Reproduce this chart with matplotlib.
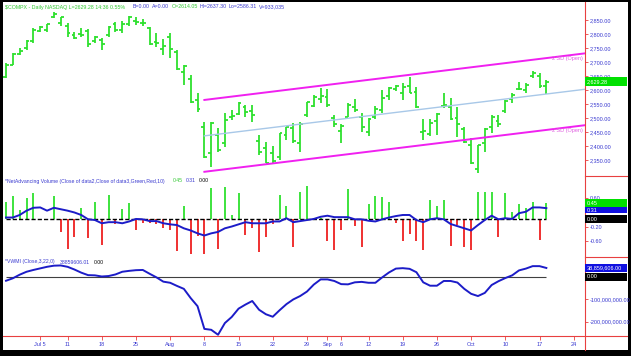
import numpy as np
import matplotlib.pyplot as plt
from matplotlib.patches import Rectangle
from matplotlib.lines import Line2D
from matplotlib.ticker import FuncFormatter

plt.rcParams['font.family'] = ['Liberation Sans', 'DejaVu Sans']

W, H = 631, 356

# daily bars for $COMPX, one entry per trading day (27 Jun .. 18 Oct 2011)
price_open = [2647, 2690, 2730, 2750, 2775, 2810, 2815, 2860, 2840, 2830,
              2795, 2800, 2810, 2775, 2780, 2795, 2835, 2815, 2835, 2845,
              2840, 2820, 2770, 2745, 2790, 2735, 2665, 2640, 2565, 2470,
              2375, 2440, 2410, 2505, 2515, 2540, 2525, 2420, 2395, 2375,
              2360, 2440, 2465, 2410, 2510, 2545, 2570, 2575, 2500, 2455,
              2505, 2540, 2505, 2450, 2505, 2530, 2580, 2605, 2590, 2615,
              2595, 2450, 2445, 2490, 2545, 2540, 2500, 2460, 2405, 2320,
              2410, 2470, 2490, 2525, 2570, 2605, 2600, 2650, 2650, 2614]
price_high = [2697, 2732, 2750, 2779, 2821, 2829, 2836, 2879, 2861, 2839,
              2807, 2821, 2818, 2793, 2786, 2829, 2843, 2846, 2864, 2861,
              2854, 2825, 2804, 2782, 2804, 2743, 2690, 2654, 2590, 2486,
              2486, 2465, 2519, 2529, 2558, 2547, 2547, 2440, 2415, 2401,
              2447, 2469, 2483, 2486, 2558, 2583, 2608, 2604, 2511, 2479,
              2554, 2568, 2519, 2501, 2543, 2601, 2611, 2618, 2625, 2647,
              2611, 2497, 2497, 2519, 2590, 2572, 2540, 2469, 2429, 2404,
              2465, 2511, 2511, 2565, 2590, 2629, 2625, 2668, 2661, 2637]
price_low = [2643, 2690, 2725, 2743, 2768, 2807, 2807, 2857, 2829, 2789,
             2782, 2789, 2754, 2768, 2743, 2789, 2807, 2804, 2829, 2832,
             2829, 2761, 2754, 2725, 2715, 2672, 2618, 2554, 2522, 2358,
             2326, 2380, 2397, 2494, 2511, 2504, 2486, 2369, 2340, 2340,
             2351, 2422, 2412, 2380, 2504, 2540, 2554, 2540, 2469, 2412,
             2504, 2522, 2451, 2437, 2497, 2519, 2565, 2597, 2565, 2590,
             2536, 2422, 2437, 2440, 2536, 2494, 2433, 2412, 2337, 2305,
             2380, 2447, 2469, 2519, 2554, 2601, 2590, 2643, 2608, 2586]
price_close = [2688, 2729, 2740, 2774, 2816, 2825, 2834, 2873, 2860, 2802,
               2784, 2797, 2763, 2789, 2765, 2826, 2815, 2834, 2859, 2842,
               2840, 2765, 2767, 2756, 2745, 2675, 2685, 2556, 2532, 2360,
               2482, 2385, 2492, 2507, 2555, 2523, 2511, 2380, 2342, 2346,
               2446, 2467, 2419, 2480, 2556, 2576, 2579, 2546, 2480, 2473,
               2548, 2529, 2467, 2496, 2532, 2572, 2607, 2615, 2612, 2590,
               2540, 2455, 2483, 2516, 2546, 2496, 2481, 2415, 2340, 2404,
               2460, 2506, 2479, 2560, 2583, 2604, 2620, 2660, 2615, 2629.28]

# regression channel (Open), from 8 Aug to the right edge
chan_x = [29, 84.65]
chan_mid = [2437, 2603]
chan_2sd = 128

net_adv = [0.47, 0.65, 0.26, 0.58, 0.74, 0.02, -0.02, 0.65, -0.34, -0.83,
           -0.48, 0.31, -0.53, 0.47, -0.71, 0.68, -0.13, 0.28, 0.44, -0.30,
           -0.09, -0.11, -0.13, -0.25, -0.31, -0.87, 0.38, -0.96, -0.46, -0.96,
           0.86, -0.83, 0.91, 0.12, 0.74, -0.44, -0.25, -0.92, -0.48, -0.14,
           0.68, 0.38, -0.76, 0.77, 0.93, 0.05, 0.03, -0.59, -0.85, -0.31,
           0.84, -0.19, -0.78, 0.43, 0.65, 0.61, 0.49, -0.09, -0.60, -0.42,
           -0.59, -0.85, 0.54, 0.37, 0.54, -0.74, -0.16, -0.78, -0.85, 0.75,
           0.75, 0.75, -0.48, 0.72, 0.21, 0.43, 0.31, 0.47, -0.57, 0.45]
net_adv_avg = [0.05, 0.05, 0.12, 0.24, 0.32, 0.33, 0.24, 0.32, 0.28, 0.24,
               0.19, 0.12, 0.00, -0.02, -0.11, -0.08, -0.08, -0.11, -0.06, 0.01,
               0.00, -0.05, -0.05, -0.11, -0.14, -0.16, -0.25, -0.31, -0.39, -0.45,
               -0.39, -0.35, -0.25, -0.20, -0.14, -0.08, -0.11, -0.11, -0.11, -0.06,
               -0.06, 0.03, -0.08, -0.05, -0.02, 0.01, 0.07, 0.10, 0.06, 0.06,
               0.06, 0.00, 0.00, -0.04, -0.06, 0.00, 0.05, 0.09, 0.12, 0.12,
               -0.02, -0.08, 0.00, 0.03, 0.00, -0.13, -0.19, -0.25, -0.31, -0.16,
               -0.02, 0.10, 0.00, 0.03, 0.01, 0.17, 0.21, 0.33, 0.33, 0.31]

# VWMI in millions
vwmi = [-18, -7, 9, 22, 30, 37, 44, 49, 50, 44,
        32, 18, 7, 6, 1, 3, 10, 22, 26, 29,
        30, 13, -3, -22, -27, -41, -54, -95, -131, -232,
        -236, -258, -206, -179, -142, -124, -108, -147, -167, -178,
        -149, -122, -101, -86, -66, -35, -12, -12, -19, -33,
        -34, -25, -23, -27, -27, -3, 19, 36, 38, 35,
        20, -25, -40, -40, -19, -19, -26, -54, -76, -86,
        -72, -37, -20, -6, 6, 28, 36, 47, 47, 38.859606]

tick_pos = [5, 9, 14, 19, 24, 29, 34, 39, 44, 47, 49, 53, 58, 63, 68, 73, 78, 83]
tick_labels = ['Jul 5', '11', '18', '25', 'Aug', '8', '15', '22', '29', 'Sep', '6',
               '12', '19', '26', 'Oct', '10', '17', '24']

GREEN = '#2ee02e'
RED = '#ee2020'
BLUE = '#1c1cc8'
TXT_BLUE = '#3a3ad0'
MAGENTA = '#f020f0'
AX_RED = '#e84040'


def fig_box(x0, y0, x1, y1):
    # pixel box, origin top-left -> figure fraction rect
    return [x0 / W, 1 - y1 / H, (x1 - x0) / W, (y1 - y0) / H]


def px_y(ax, val):
    # data value -> pixel row from the top
    return H - ax.transData.transform((0, val))[1]


def value_box(ax, val, text, face, top=None, h=8):
    yc = px_y(ax, val)
    y0 = yc - h / 2 if top is None else max(top, yc - h / 2)
    fig.patches.append(Rectangle((585 / W, 1 - (y0 + h) / H), 42 / W, h / H,
                                 transform=fig.transFigure, facecolor=face,
                                 edgecolor='none', zorder=5))
    fig.text(587 / W, 1 - (y0 + h / 2) / H, text, color='white', fontsize=4,
             va='center', ha='left', zorder=6)
    return y0 + h


fig = plt.figure(figsize=(W / 100, H / 100), dpi=100, facecolor='black')
fig.patches.append(Rectangle((3 / W, 1 - 350 / H), 625 / W, 348 / H,
                             transform=fig.transFigure, facecolor='white',
                             edgecolor='none', zorder=-5))

ax1 = fig.add_axes(fig_box(3, 2, 585, 176))
ax2 = fig.add_axes(fig_box(3, 176, 585, 257))
ax3 = fig.add_axes(fig_box(3, 257, 585, 336))

idx = np.arange(len(price_close))
xlim = (-0.44, 84.65)

for ax in (ax1, ax2, ax3):
    ax.set_facecolor('none')
    ax.set_xlim(*xlim)
    for s in ax.spines.values():
        s.set_visible(False)
    ax.yaxis.tick_right()
    ax.tick_params(axis='y', colors=AX_RED, labelcolor=TXT_BLUE, length=2.5,
                   width=0.6, labelsize=4, pad=0.8)

# price panel
ax1.set_ylim(2294, 2914)
ax1.vlines(idx, price_low, price_high, color=GREEN, lw=1.3)
ax1.hlines(price_open, idx - 0.42, idx, color=GREEN, lw=1.3)
ax1.hlines(price_close, idx, idx + 0.42, color=GREEN, lw=1.3)

cx = np.array(chan_x)
cm = np.array(chan_mid)
ax1.plot(cx, cm, color='#a8c8e8', lw=1.0)
ax1.plot(cx, cm + chan_2sd, color=MAGENTA, lw=1.4)
ax1.plot(cx, cm - chan_2sd, color=MAGENTA, lw=1.4)
for sgn in (1, -1):
    ax1.annotate('2 SD (Open)', xy=(cx[1], cm[1] + sgn * chan_2sd),
                 xytext=(-1.5, -1.8), textcoords='offset points',
                 ha='right', va='top', fontsize=4, color='#e060e0')

ax1.set_yticks(np.arange(2350, 2851, 50))
ax1.yaxis.set_major_formatter(FuncFormatter(lambda v, p: f'{v:,.2f}'))
ax1.set_xticks([])

# net advancing volume panel
ax2.set_ylim(-1.047, 1.203)
bar_colors = [GREEN if v >= 0 else RED for v in net_adv]
ax2.vlines(idx, 0, net_adv, colors=bar_colors, lw=1.3)
ax2.hlines(0, idx[0], idx[-1], color='black', lw=1.0, linestyles=(0, (3, 1.5)))
ax2.plot(idx, net_adv_avg, color=BLUE, lw=1.4)
ax2.set_yticks([0.6, -0.2, -0.6])
ax2.yaxis.set_major_formatter(FuncFormatter(lambda v, p: f'{v:.2f}'))
ax2.set_xticks([])

# VWMI panel
vw = np.array(vwmi) * 1e6
ax3.set_ylim(-263.6e6, 87.6e6)
ax3.hlines(0, idx[0], idx[-1], color='#404040', lw=0.8)
ax3.plot(idx, vw, color=BLUE, lw=1.4)
ax3.set_yticks([-100e6, -200e6])
ax3.yaxis.set_major_formatter(FuncFormatter(lambda v, p: f'{v:,.2f}'))
ax3.set_xticks(tick_pos)
ax3.set_xticklabels(tick_labels)
ax3.tick_params(axis='x', colors=AX_RED, labelcolor=TXT_BLUE, length=3,
                width=0.6, labelsize=4, pad=1.5)

# value boxes on the right scale
value_box(ax1, price_close[-1], f'{price_close[-1]:,.2f}', '#00e000', h=9)
b = value_box(ax2, net_adv[-1], f'{net_adv[-1]:.2f}', '#00e000')
value_box(ax2, net_adv_avg[-1], f'{net_adv_avg[-1]:.2f}', '#1010e0', top=b, h=6)
value_box(ax2, 0, '0.00', 'black')
b = value_box(ax3, vw[-1], f'{vw[-1]:,.2f}', '#1010e0')
value_box(ax3, 0, '0.00', 'black', top=b)

# frame lines of the right scale
for xs, ys in [((585, 585), (2, 350)), ((585, 627), (176, 176)),
               ((585, 627), (257, 257)), ((3, 627), (336, 336))]:
    fig.add_artist(Line2D([x / W for x in xs], [1 - y / H for y in ys],
                          color=AX_RED, lw=0.8))


# panel captions
def caption(x, y, text, color, size=3.8):
    fig.text(x / W, 1 - y / H, text, color=color, fontsize=size, va='center', ha='left')


caption(5, 7, '$COMPX - Daily NASDAQ L=2629.28 14:36 0.55%', '#30c830')
caption(133, 7, 'B=0.00', TXT_BLUE)
caption(152, 7, 'A=0.00', TXT_BLUE)
caption(172, 7, 'O=2614.05', '#30c830')
caption(200, 7, 'Hi=2637.30', TXT_BLUE)
caption(229, 7, 'Lo=2586.31', TXT_BLUE)
caption(259, 7, 'V=933,035', TXT_BLUE)

caption(5, 181, '*NetAdvancing Volume (Close of data2,Close of data3,Green,Red,10)', TXT_BLUE, 3.7)
caption(173, 181, '0.45', '#30c830', 3.7)
caption(186, 181, '0.31', TXT_BLUE, 3.7)
caption(199, 181, '0.00', 'black', 3.7)

caption(5, 262, '*VWMI (Close,3,22,0)', TXT_BLUE, 3.7)
caption(60, 262, '38859606.01', TXT_BLUE, 3.7)
caption(94, 262, '0.00', 'black', 3.7)

fig.savefig('out.png', dpi=100, facecolor='black')
